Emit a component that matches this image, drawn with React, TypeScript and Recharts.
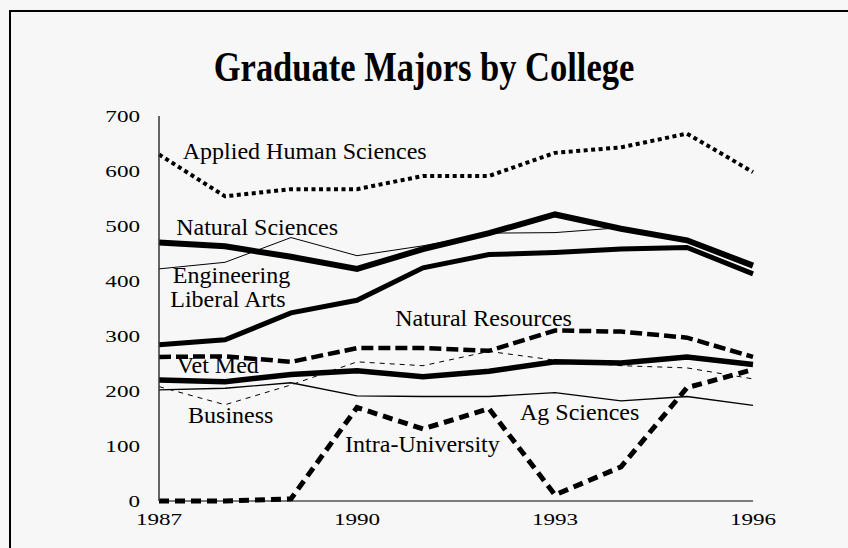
import { LineChart, Line, XAxis, YAxis, ReferenceDot } from 'recharts'

const years = [1987, 1988, 1989, 1990, 1991, 1992, 1993, 1994, 1995, 1996]
const appliedHuman = [630, 554, 567, 567, 591, 591, 633, 643, 668, 598]
const naturalSci = [470, 463, 444, 422, 458, 487, 521, 495, 474, 428]
const engineering = [422, 434, 479, 446, 464, 487, 488, 497, 474, 428]
const liberalArts = [284, 293, 342, 365, 424, 448, 452, 458, 461, 413]
const naturalRes = [262, 263, 253, 278, 278, 273, 310, 308, 297, 262]
const vetMed = [220, 217, 230, 237, 226, 236, 253, 251, 262, 248]
const business = [208, 175, 211, 253, 246, 272, 256, 246, 242, 222]
const agSci = [202, 205, 215, 191, 190, 190, 197, 182, 190, 174]
const intraUniv = [0, 0, 4, 170, 131, 168, 11, 62, 206, 239]

const xTicks = [1987, 1990, 1993, 1996]
const yTicks = [0, 100, 200, 300, 400, 500, 600, 700]

// where each college name sits, in data units (left end of baseline)
const labels = [
  { text: 'Applied Human Sciences', year: 1987.36, value: 622 },
  { text: 'Natural Sciences', year: 1987.26, value: 484 },
  { text: 'Engineering', year: 1987.21, value: 396 },
  { text: 'Liberal Arts', year: 1987.17, value: 353 },
  { text: 'Natural Resources', year: 1990.58, value: 318 },
  { text: 'Vet Med', year: 1987.27, value: 233 },
  { text: 'Business', year: 1987.44, value: 142 },
  { text: 'Intra-University', year: 1989.82, value: 89 },
  { text: 'Ag Sciences', year: 1992.47, value: 147 },
]

const data = years.map((year, i) => ({
  year,
  appliedHuman: appliedHuman[i],
  naturalSci: naturalSci[i],
  engineering: engineering[i],
  liberalArts: liberalArts[i],
  naturalRes: naturalRes[i],
  vetMed: vetMed[i],
  business: business[i],
  agSci: agSci[i],
  intraUniv: intraUniv[i],
}))

const serif = '"Liberation Serif", "Times New Roman", serif'

const XTick = ({ x, y, payload }: any) => (
  <text transform={`translate(${x},${y + 24}) scale(1.4,1)`} textAnchor="middle"
    fontFamily={serif} fontSize={16.5} fill="#000">{payload.value}</text>
)

const YTick = ({ x, y, payload }: any) => (
  <text transform={`translate(${x - 19},${y}) scale(1.4,1)`} textAnchor="end" dy="0.35em"
    fontFamily={serif} fontSize={16.5} fill="#000">{payload.value}</text>
)

export default function App() {
  return (
    <div style={{ position: 'fixed', left: 0, top: 0, width: 848, height: 548, background: '#f7f7f7', overflow: 'hidden' }}>
      {/* frame: only the left and top edges show */}
      <div style={{ position: 'absolute', left: 9, top: 10, width: 2, height: 538, background: '#000' }} />
      <div style={{ position: 'absolute', left: 9, top: 10, width: 839, height: 2, background: '#000' }} />
      <svg width={848} height={100} style={{ position: 'absolute', left: 0, top: 0 }}>
        <text transform="translate(424,81) scale(1,1.2)" textAnchor="middle" fontFamily={serif}
          fontWeight="bold" fontSize={34.5} fill="#000">Graduate Majors by College</text>
      </svg>
      <div style={{ position: 'absolute', left: 11, top: 12 }}>
        <LineChart width={770} height={530} data={data}
          margin={{ top: 104, right: 28, bottom: 11, left: 88 }}>
          <XAxis dataKey="year" type="number" domain={[1987, 1996]} ticks={xTicks}
            tickLine={false} tickSize={0} tickMargin={0} height={30}
            axisLine={{ stroke: '#000', strokeWidth: 1 }} tick={<XTick />} />
          <YAxis type="number" domain={[0, 700]} ticks={yTicks} width={60}
            tickLine={false} tickSize={0} tickMargin={0}
            axisLine={{ stroke: '#333', strokeWidth: 1.5 }} tick={<YTick />} />
          <Line dataKey="engineering" stroke="#000" strokeWidth={1} dot={false} isAnimationActive={false} />
          <Line dataKey="agSci" stroke="#000" strokeWidth={1.3} dot={false} isAnimationActive={false} />
          <Line dataKey="business" stroke="#000" strokeWidth={1} strokeDasharray="5 5" dot={false} isAnimationActive={false} />
          <Line dataKey="appliedHuman" stroke="#000" strokeWidth={4} strokeDasharray="4 3.5" dot={false} isAnimationActive={false} />
          <Line dataKey="naturalSci" stroke="#000" strokeWidth={6} dot={false} isAnimationActive={false} />
          <Line dataKey="liberalArts" stroke="#000" strokeWidth={5} dot={false} isAnimationActive={false} />
          <Line dataKey="naturalRes" stroke="#000" strokeWidth={4.5} strokeDasharray="12 5" dot={false} isAnimationActive={false} />
          <Line dataKey="vetMed" stroke="#000" strokeWidth={5.5} dot={false} isAnimationActive={false} />
          <Line dataKey="intraUniv" stroke="#000" strokeWidth={5} strokeDasharray="10 6" dot={false} isAnimationActive={false} />
          {labels.map((l) => (
            <ReferenceDot key={l.text} x={l.year} y={l.value} r={0} ifOverflow="visible"
              shape={(p: any) => (
                <text x={p.cx} y={p.cy} fontFamily={serif} fontSize={24} fill="#000">{l.text}</text>
              )} />
          ))}
        </LineChart>
      </div>
    </div>
  )
}
